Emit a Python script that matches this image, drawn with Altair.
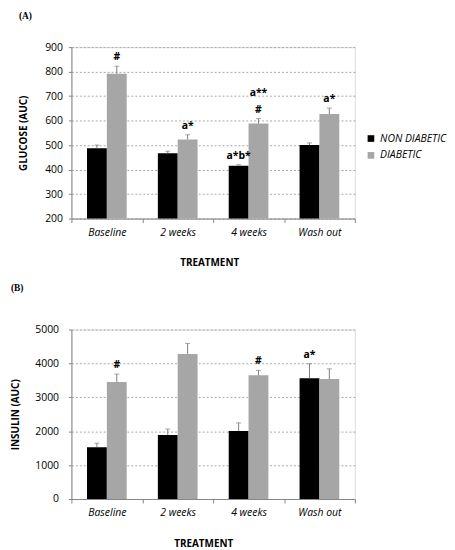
import altair as alt
import pandas as pd

categories = ["Baseline", "2 weeks", "4 weeks", "Wash out"]
groups = ["NON DIABETIC", "DIABETIC"]
colors = ["#000000", "#a6a6a6"]

glucose_nd = [487, 467, 416, 500]
glucose_nd_sem = [13, 8, 4, 9]
glucose_d = [791, 523, 588, 627]
glucose_d_sem = [31, 19, 20, 24]
glucose_nd_marks = ["", "", "a*b*", ""]
glucose_d_marks = ["#", "a*", "#", "a*"]
glucose_d_marks_upper = ["", "", "a**", ""]

insulin_nd = [1530, 1890, 2010, 3560]
insulin_nd_sem = [115, 175, 235, 430]
insulin_d = [3450, 4280, 3650, 3540]
insulin_d_sem = [235, 310, 145, 300]
insulin_nd_marks = ["", "", "", "a*"]
insulin_d_marks = ["#", "", "#", ""]
insulin_d_marks_upper = ["", "", "", ""]


def make_df(nd, nd_sem, d, d_sem, nd_marks, d_marks, d_upper):
    rows = []
    for i, c in enumerate(categories):
        rows.append(dict(cat=c, grp=groups[0], val=nd[i], top=nd[i] + nd_sem[i],
                         mark=nd_marks[i], upper=""))
        rows.append(dict(cat=c, grp=groups[1], val=d[i], top=d[i] + d_sem[i],
                         mark=d_marks[i], upper=d_upper[i]))
    return pd.DataFrame(rows)


FONT = "Open Sans"
AX = "#868686"


def panel(df, letter, ytitle, ymin, ymax, step, ylabelpad, ytitlepad, height,
          legend_y, title_dx, title_offset):
    x = alt.X(
        "cat:N", sort=categories, title="TREATMENT",
        scale=alt.Scale(paddingInner=0, paddingOuter=0),
        axis=alt.Axis(
            labelFont=FONT, labelFontStyle="italic", labelFontSize=10.5, labelColor="#000",
            labelAngle=0, tickBand="extent", tickSize=4, tickColor=AX, domainColor=AX,
            labelPadding=5, titleFont=FONT, titleFontWeight="bold", titleFontSize=10,
            titleColor="#000", titlePadding=20, titleX=143 + title_dx, grid=False,
        ),
    )
    xo = alt.XOffset("grp:N", sort=groups, scale=alt.Scale(paddingInner=0, paddingOuter=0.785))
    yscale = alt.Scale(domain=[ymin, ymax], zero=False, nice=False)
    yaxis = alt.Axis(
        values=list(range(ymin, ymax + 1, step)), format="d", grid=True, labelOverlap=False,
        gridDash=[2, 2], gridColor="#a8a8a8", tickSize=3, tickColor=AX, domainColor=AX,
        labelFont=FONT, labelFontSize=10.5, labelColor="#000", labelPadding=ylabelpad,
        titleFont=FONT, titleFontWeight="bold", titleFontSize=10, titleColor="#000",
        titlePadding=ytitlepad,
    )
    color = alt.Color(
        "grp:N", sort=groups, scale=alt.Scale(domain=groups, range=colors),
        legend=alt.Legend(
            title=None, orient="none", legendX=297, legendY=legend_y, symbolType="square",
            symbolSize=45, symbolStrokeWidth=0, labelFont=FONT, labelFontStyle="italic",
            labelFontSize=10.5, labelColor="#000", rowPadding=6, labelOffset=4,
        ),
    )
    yval = alt.Y("val:Q", title=ytitle, scale=yscale, axis=yaxis)
    ytop = alt.Y("top:Q", title=ytitle, scale=yscale, axis=yaxis)
    base = alt.Chart(df).encode(x=x, xOffset=xo)
    bars = base.mark_bar().encode(y=yval, y2=alt.datum(ymin), color=color)
    rules = base.mark_rule(color="#7f7f7f").encode(y=yval, y2="top:Q")
    caps = base.mark_tick(orient="horizontal", size=5, thickness=1, color="#7f7f7f").encode(y=ytop)
    texts = base.transform_filter("datum.mark != ''").mark_text(
        baseline="bottom", dy=-4, font=FONT, fontWeight="bold", fontSize=10.5, color="#000",
    ).encode(y=ytop, text="mark:N")
    texts2 = base.transform_filter("datum.upper != ''").mark_text(
        baseline="bottom", dy=-21, font=FONT, fontWeight="bold", fontSize=10.5, color="#000",
    ).encode(y=ytop, text="upper:N")
    return alt.layer(bars, rules, caps, texts, texts2).properties(
        width=286, height=height,
        title=alt.TitleParams(
            letter, anchor="start", frame="bounds", font="Liberation Serif", fontSize=9.5,
            fontWeight="bold", offset=title_offset, color="#000", baseline="bottom",
        ),
    )


top = panel(make_df(glucose_nd, glucose_nd_sem, glucose_d, glucose_d_sem,
                    glucose_nd_marks, glucose_d_marks, glucose_d_marks_upper),
            "(A)", "GLUCOSE (AUC)", 200, 900, 100, 6, 16, 173, 87, -4, 12)
bottom = panel(make_df(insulin_nd, insulin_nd_sem, insulin_d, insulin_d_sem,
                       insulin_nd_marks, insulin_d_marks, insulin_d_marks_upper),
               "(B)", "INSULIN (AUC)", 0, 5000, 1000, 10, 14, 171, 91, -10, 22)

chart = alt.vconcat(
    alt.hconcat(top, spacing=0), alt.hconcat(bottom, spacing=0), spacing=15
).properties(
    padding={"left": 2, "top": 0, "right": 0, "bottom": 0}
).configure_view(stroke=None).configure(background="white")

chart.save("out.html", embed_options={"renderer": "svg", "actions": False})
